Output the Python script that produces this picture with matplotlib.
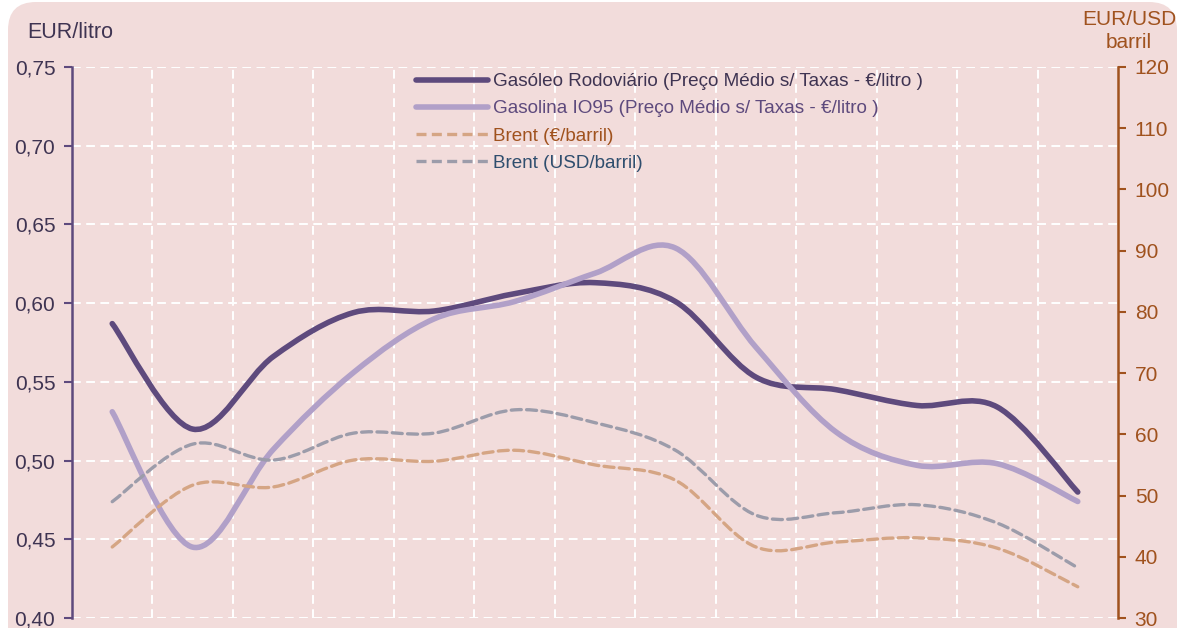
import numpy as np
import matplotlib.pyplot as plt
from matplotlib.path import Path
from matplotlib.patches import PathPatch, FancyBboxPatch
from matplotlib.lines import Line2D

plt.rcParams['font.family'] = ['Liberation Sans', 'DejaVu Sans']

# ================================================
# Donnees (13 periodes)
periodes = np.arange(13)
gasoleo = [0.587, 0.520, 0.566, 0.594, 0.595, 0.606, 0.613, 0.601, 0.553,
           0.545, 0.535, 0.534, 0.480]
gasolina = [0.531, 0.445, 0.507, 0.556, 0.590, 0.601, 0.619, 0.635, 0.572,
            0.518, 0.497, 0.498, 0.474]
brent_eur = [41.6, 51.7, 51.4, 55.8, 55.6, 57.4, 55.0, 52.5, 41.6,
             42.4, 43.1, 41.4, 35.1]
brent_usd = [49.0, 58.4, 55.8, 60.2, 60.2, 64.0, 61.9, 57.4, 46.8,
             47.2, 48.5, 45.5, 38.2]

labels = ['Gasóleo Rodoviário (Preço Médio s/ Taxas - €/litro )',
          'Gasolina IO95 (Preço Médio s/ Taxas - €/litro )',
          'Brent (€/barril)',
          'Brent (USD/barril)']
left_ticks = np.arange(0.40, 0.751, 0.05)
right_ticks = np.arange(30, 121, 10)

# couleurs
fond = '#F2DCDB'
c_gasoleo = '#5E4A7D'
c_gasolina = '#B1A0C8'
c_eur = '#D5A584'
c_usd = '#9C9CAA'
c_brun = '#A0521E'


# courbe lissee (type Excel) : segments de Bezier a partir des points
def smooth_path(x, y):
    p = np.column_stack([x, y]).astype(float)
    n = len(p)
    verts = [p[0]]
    codes = [Path.MOVETO]
    for i in range(n - 1):
        p0 = p[max(i - 1, 0)]
        p1 = p[i]
        p2 = p[i + 1]
        p3 = p[min(i + 2, n - 1)]
        verts += [p1 + (p2 - p0) / 6, p2 - (p3 - p1) / 6, p2]
        codes += [Path.CURVE4] * 3
    return Path(verts, codes)


def courbe(ax, x, y, **kw):
    patch = PathPatch(smooth_path(x, y), fill=False, transform=ax.transData,
                      capstyle='round', joinstyle='round', **kw)
    ax.add_patch(patch)


fig = plt.figure(figsize=(11.79, 6.28), dpi=100)
fig.patch.set_facecolor('white')
fig.patches.append(FancyBboxPatch((8, -30), 1169, 656, boxstyle='round,pad=0,rounding_size=28',
                                  transform=None, facecolor=fond, edgecolor='none',
                                  zorder=-10))

ax = fig.add_axes([72 / 1179, 1 - 618 / 628, (1118 - 72) / 1179, (618 - 67) / 628])
ax.set_facecolor('none')
ax.set_xlim(-0.5, 12.5)
ax.set_ylim(0.40, 0.75)
ax.set_yticks(left_ticks)
ax.set_yticklabels([('%.2f' % v).replace('.', ',') for v in left_ticks])
ax.set_xticks(np.arange(0.5, 12, 1))
ax.set_xticklabels([])
ax.tick_params(axis='x', length=0)
ax.tick_params(axis='y', direction='out', length=6, width=1.5, color=c_gasoleo,
               labelsize=15, labelcolor='#3F3452', pad=6)
ax.grid(True, color='white', linestyle=(0, (4.5, 2.8)), linewidth=1.4)
ax.set_axisbelow(True)
for s in ['top', 'bottom', 'right']:
    ax.spines[s].set_visible(False)
ax.spines['left'].set_color(c_gasoleo)
ax.spines['left'].set_linewidth(1.8)

courbe(ax, periodes, gasoleo, edgecolor=c_gasoleo, linewidth=4.0, zorder=3)
courbe(ax, periodes, gasolina, edgecolor=c_gasolina, linewidth=4.0, zorder=4)

ax2 = ax.twinx()
ax2.set_ylim(30, 120)
ax2.set_yticks(right_ticks)
ax2.tick_params(axis='y', direction='out', length=6, width=1.5, color=c_brun,
                labelsize=15, labelcolor=c_brun, pad=6)
for s in ['top', 'bottom', 'left']:
    ax2.spines[s].set_visible(False)
ax2.spines['right'].set_color(c_brun)
ax2.spines['right'].set_linewidth(1.8)

tirets = (0, (3.0, 1.6))
courbe(ax2, periodes, brent_eur, edgecolor=c_eur, linewidth=2.4,
       linestyle=tirets, zorder=3)
courbe(ax2, periodes, brent_usd, edgecolor=c_usd, linewidth=2.4,
       linestyle=tirets, zorder=3)

# legende
handles = [Line2D([], [], color=c_gasoleo, linewidth=4.0, solid_capstyle='round'),
           Line2D([], [], color=c_gasolina, linewidth=4.0, solid_capstyle='round'),
           Line2D([], [], color=c_eur, linewidth=2.4, linestyle=tirets),
           Line2D([], [], color=c_usd, linewidth=2.4, linestyle=tirets)]
leg = ax2.legend(handles, labels, loc='upper left', bbox_to_anchor=(416 / 1179, 1 - 73 / 628),
                 bbox_transform=fig.transFigure, frameon=False, fontsize=13.6,
                 handlelength=3.8, handletextpad=0.3, labelspacing=0.53, borderaxespad=0,
                 borderpad=0)
for t, c in zip(leg.get_texts(), ['#3F3452', c_gasoleo, c_brun, '#2F4E6E']):
    t.set_color(c)

fig.text(27 / 1179, 1 - 33 / 628, 'EUR/litro', fontsize=15.5, color='#3F3452',
         ha='left', va='center')
fig.text(1176 / 1179, 1 - 31 / 628, 'EUR/USD\nbarril', fontsize=15, color=c_brun,
         ha='right', va='center', multialignment='center', linespacing=1.3)

fig.savefig('out.png', dpi=100, facecolor='white')
